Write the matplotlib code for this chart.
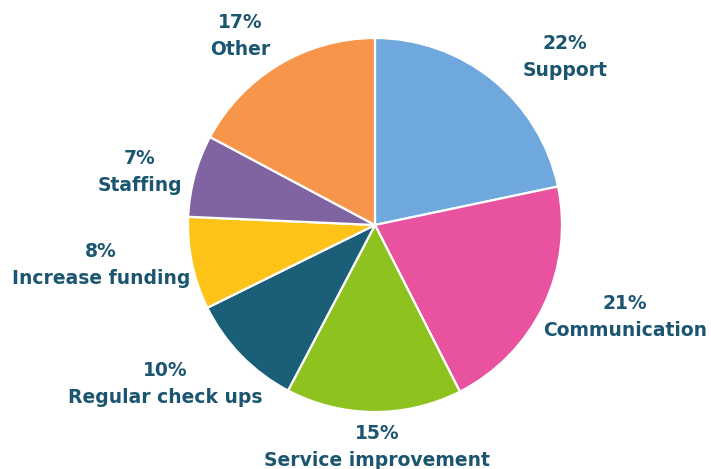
import matplotlib
matplotlib.use("Agg")
from matplotlib import pyplot as plt

# Data (labels show rounded percentages)
categories = ["Support", "Communication", "Service improvement",
              "Regular check ups", "Increase funding", "Staffing", "Other"]
shares = [21.7, 20.8, 15.2, 10.0, 8.0, 7.1, 17.2]
colors = ["#6fa8dc", "#e8529e", "#8dc21f", "#1b5e78",
          "#fdc319", "#8064a2", "#f7964a"]

# label centres in pie-radius units (layout only)
label_pos = [(1.016, 0.898), (1.337, -0.492), (0.011, -1.187),
             (-1.123, -0.850), (-1.465, -0.214), (-1.257, 0.283),
             (-0.722, 1.011)]

text_color = "#1b5570"

# pixel frame: pie centre at (375, 225), radius 187 px
cx, cy, r = 375, 225, 187
W, H = 711, 469

fig = plt.figure(figsize=(W / 100, H / 100), dpi=100)
ax = fig.add_axes([0, 0, 1, 1])
ax.pie(shares, colors=colors, startangle=90, counterclock=False,
       radius=1.0, center=(0, 0),
       wedgeprops=dict(edgecolor="white", linewidth=1.6))

for cat, val, (x, y) in zip(categories, shares, label_pos):
    ax.text(x, y, f"{round(val)}%\n{cat}", ha="center", va="center",
            fontsize=13.5, fontweight="bold", color=text_color,
            family="DejaVu Sans", linespacing=1.48)

ax.set_xlim(-cx / r, (W - cx) / r)
ax.set_ylim(-(H - cy) / r, cy / r)
ax.set_aspect("auto")
ax.axis("off")

fig.savefig("out.png", dpi=100)
